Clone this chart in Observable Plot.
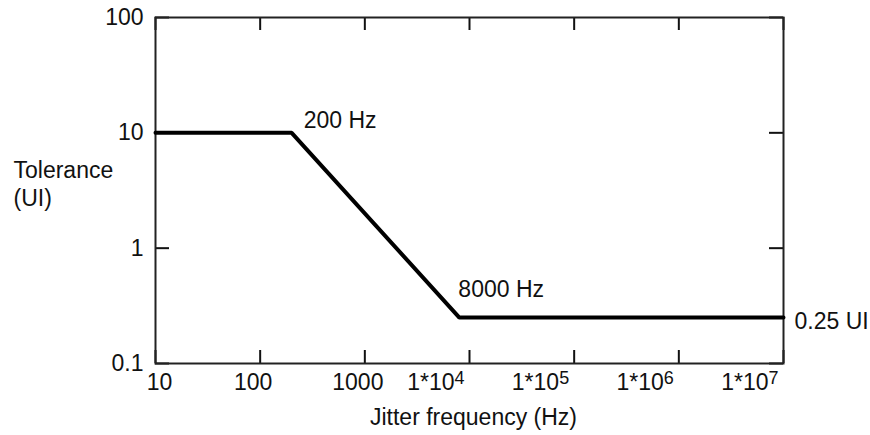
<!DOCTYPE html>
<html>
<head>
<meta charset="utf-8">
<script src="https://cdn.jsdelivr.net/npm/d3@7"></script>
<script src="https://cdn.jsdelivr.net/npm/@observablehq/plot@0.6"></script>
<style>
  html, body { margin: 0; padding: 0; background: #fff; }
  svg { font-family: "Liberation Sans", Arial, sans-serif; }
</style>
</head>
<body>
<div id="chart"></div>
<script>
// Data
const frequencies = [10, 200, 8000, 1e7];
const tolerance = [10, 10, 0.25, 0.25];
const xTicks = [10, 100, 1000, 1e4, 1e5, 1e6, 1e7];
const xTickLabelsPlain = ["10", "100", "1000"];
const xTickLabelsPow = ["1*10\u2074", "1*10\u2075", "1*10\u2076", "1*10\u2077"];
const yTicks = [0.1, 1, 10, 100];
const yTickLabels = ["0.1", "1", "10", "100"];
const annotations = [
  {f: 200, t: 10, label: "200 Hz"},
  {f: 8000, t: 0.25, label: "8000 Hz"},
  {f: 1e7, t: 0.25, label: "0.25 UI"}
];
const yTitle = "Tolerance\n(UI)";
const xTitle = "Jitter frequency (Hz)";

const W = 870, H = 435;
const mL = 155, mR = 87, mT = 17, mB = 72;
const fw = W - mL - mR, fh = H - mT - mB;
const tickLen = 13;
const data = frequencies.map((f, i) => ({f, t: tolerance[i]}));
const fs = 23;

const chart = Plot.plot({
  width: W, height: H,
  marginLeft: mL, marginRight: mR, marginTop: mT, marginBottom: mB,
  style: {fontFamily: '"Liberation Sans", Arial, sans-serif', fontSize: fs + "px", color: "#111", background: "#fff"},
  x: {type: "log", domain: [10, 1e7], axis: null},
  y: {type: "log", domain: [0.1, 100], axis: null},
  marks: [
    // inner ticks on all four sides
    Plot.tickX(xTicks, {x: d => d, insetTop: fh - tickLen, stroke: "#111", strokeWidth: 2}),
    Plot.tickX(xTicks, {x: d => d, insetBottom: fh - tickLen, stroke: "#111", strokeWidth: 2}),
    Plot.tickY(yTicks, {y: d => d, insetRight: fw - 14, stroke: "#111", strokeWidth: 2}),
    Plot.tickY(yTicks, {y: d => d, insetLeft: fw - 14, stroke: "#111", strokeWidth: 2}),
    Plot.frame({stroke: "#222", strokeWidth: 2}),
    // y tick labels
    Plot.text(yTicks, {y: d => d, text: (d, i) => yTickLabels[i], frameAnchor: "left", lineAnchor: "middle", textAnchor: "end", dx: -12, fontSize: fs, fill: "#111"}),
    // x tick labels
    Plot.text(xTicks.slice(0, 1), {x: d => d, text: () => xTickLabelsPlain[0], frameAnchor: "bottom", lineAnchor: "middle", dy: 19, dx: 4, fontSize: fs, fill: "#111"}),
    Plot.text(xTicks.slice(1, 3), {x: d => d, text: (d, i) => xTickLabelsPlain[i + 1], frameAnchor: "bottom", lineAnchor: "middle", dy: 19, dx: -7, fontSize: fs, fill: "#111"}),
    Plot.text(xTicks.slice(3), {x: d => d, text: (d, i) => xTickLabelsPow[i], frameAnchor: "bottom", lineAnchor: "middle", textAnchor: "end", dy: 19, dx: -5, fontSize: fs, fill: "#111"}),
    // data line
    Plot.line(data, {x: "f", y: "t", stroke: "#000", strokeWidth: 4, strokeLinejoin: "miter"}),
    // annotations
    Plot.text(annotations.slice(0, 1), {x: "f", y: "t", text: "label", textAnchor: "start", dx: 12, dy: -12, fontSize: fs, fill: "#111"}),
    Plot.text(annotations.slice(1, 2), {x: "f", y: "t", text: "label", textAnchor: "start", dx: -1, dy: -28, fontSize: fs, fill: "#111"}),
    Plot.text(annotations.slice(2, 3), {x: "f", y: "t", text: "label", textAnchor: "start", dx: 11, dy: 4, fontSize: fs, fill: "#111"}),
    // titles
    Plot.text([yTitle], {frameAnchor: "top-left", textAnchor: "start", lineAnchor: "top", lineHeight: 1.2, dx: 13 - mL, dy: 158 - mT, fontSize: fs, fill: "#111"}),
    Plot.text([xTitle], {frameAnchor: "bottom", lineAnchor: "middle", dx: 4, dy: 54, fontSize: fs, fill: "#111"})
  ]
});
document.getElementById("chart").appendChild(chart);

// render the power-of-ten labels with a real raised superscript
const supMap = {"\u2074": "4", "\u2075": "5", "\u2076": "6", "\u2077": "7"};
chart.querySelectorAll("text").forEach(t => {
  const s = t.textContent;
  const m = s.match(/^(1\*10)([\u2074-\u2077])$/);
  if (!m) return;
  t.textContent = "";
  const ns = "http://www.w3.org/2000/svg";
  const a = document.createElementNS(ns, "tspan");
  a.textContent = m[1];
  const b = document.createElementNS(ns, "tspan");
  b.textContent = supMap[m[2]];
  b.setAttribute("font-size", "18");
  b.setAttribute("dy", "-6");
  t.appendChild(a);
  t.appendChild(b);
});
</script>
</body>
</html>
